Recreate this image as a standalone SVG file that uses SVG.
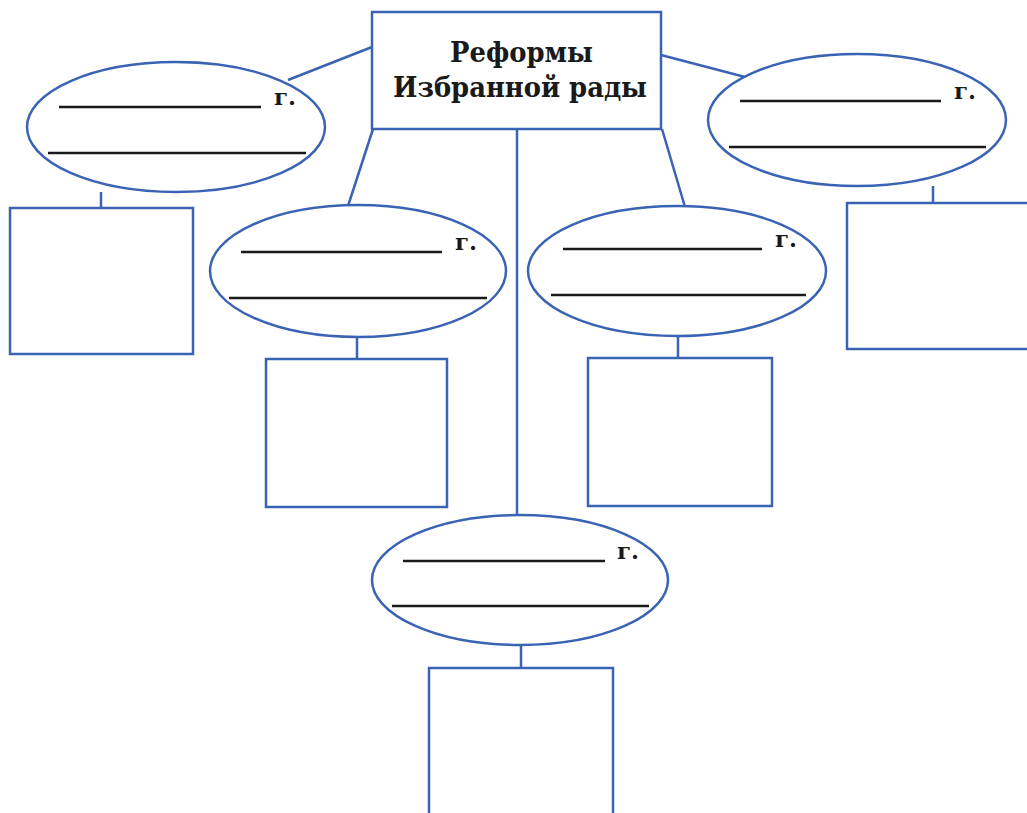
<svg xmlns="http://www.w3.org/2000/svg" width="1027" height="813" viewBox="0 0 1027 813">
<style>
.b{fill:#fff;stroke:#3b63b3;stroke-width:2.5}
.c{stroke:#3b63b3;stroke-width:2.5;fill:none}
.u{stroke:#1a1a1a;stroke-width:2.6}
.t{font-family:"DejaVu Serif","Liberation Serif",serif;font-weight:bold;fill:#1a1a1a}
.title{font-size:27px}
.g{font-size:23px}
</style>
<rect width="1027" height="813" fill="#fff"/>
<g id="connectors">
<line class="c" x1="372" y1="47" x2="288" y2="80"/>
<line class="c" x1="661" y1="55" x2="745" y2="77"/>
<line class="c" x1="373" y1="129" x2="348" y2="206"/>
<line class="c" x1="662" y1="129" x2="685" y2="207"/>
<line class="c" x1="517" y1="129" x2="517" y2="515"/>
<line class="c" x1="101" y1="192" x2="101" y2="208"/>
<line class="c" x1="933" y1="186" x2="933" y2="203"/>
<line class="c" x1="357" y1="337" x2="357" y2="359"/>
<line class="c" x1="678" y1="336" x2="678" y2="358"/>
<line class="c" x1="521" y1="645" x2="521" y2="668"/>
</g>
<g id="title">
<rect class="b" x="372" y="12" width="289" height="117"/>
<text class="t title" x="450" y="62" textLength="143" lengthAdjust="spacingAndGlyphs">Реформы</text>
<text class="t title" x="393" y="97" textLength="254" lengthAdjust="spacingAndGlyphs">Избранной рады</text>
</g>
<g id="ellipse-top-left">
<ellipse class="b" cx="176" cy="127" rx="149" ry="65"/>
<line class="u" x1="59" y1="107" x2="261" y2="107"/>
<line class="u" x1="48" y1="153" x2="306" y2="153"/>
<text class="t g" x="274" y="105">г.</text>
</g>
<g id="ellipse-top-right">
<ellipse class="b" cx="857" cy="120" rx="149" ry="66"/>
<line class="u" x1="740" y1="101" x2="941" y2="101"/>
<line class="u" x1="729" y1="147" x2="986" y2="147"/>
<text class="t g" x="954" y="99">г.</text>
</g>
<g id="ellipse-mid-left">
<ellipse class="b" cx="358" cy="271" rx="148" ry="66"/>
<line class="u" x1="241" y1="252" x2="442" y2="252"/>
<line class="u" x1="229" y1="298" x2="487" y2="298"/>
<text class="t g" x="455" y="250">г.</text>
</g>
<g id="ellipse-mid-right">
<ellipse class="b" cx="677" cy="271" rx="149" ry="65"/>
<line class="u" x1="563" y1="249" x2="762" y2="249"/>
<line class="u" x1="551" y1="295" x2="806" y2="295"/>
<text class="t g" x="775" y="247">г.</text>
</g>
<g id="ellipse-bottom">
<ellipse class="b" cx="520" cy="580" rx="148" ry="65"/>
<line class="u" x1="403" y1="561" x2="605" y2="561"/>
<line class="u" x1="392" y1="606" x2="649" y2="606"/>
<text class="t g" x="617" y="559">г.</text>
</g>
<g id="box-top-left"><rect class="b" x="10" y="208" width="183" height="146"/></g>
<g id="box-top-right"><rect class="b" x="847" y="203" width="190" height="146"/></g>
<g id="box-mid-left"><rect class="b" x="266" y="359" width="181" height="148"/></g>
<g id="box-mid-right"><rect class="b" x="588" y="358" width="184" height="148"/></g>
<g id="box-bottom"><rect class="b" x="429" y="668" width="184" height="155"/></g>
</svg>
